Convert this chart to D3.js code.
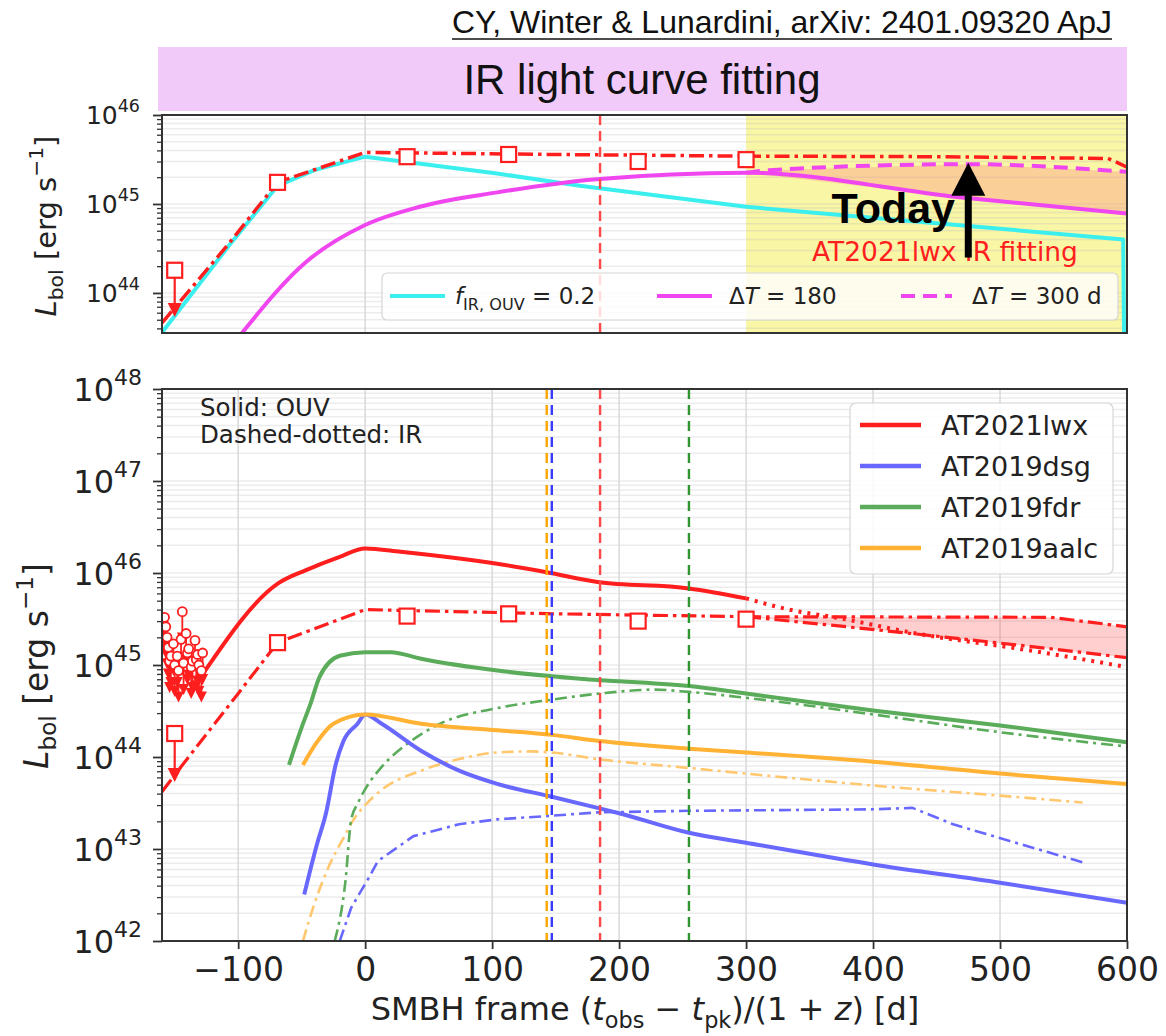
<!DOCTYPE html>
<html>
<head>
<meta charset="utf-8">
<script src="https://cdn.jsdelivr.net/npm/d3@7"></script>
<style>
  body { margin: 0; background: #fff; }
  svg { display: block; }
  text { font-family: "DejaVu Sans", sans-serif; white-space: pre; }
  text.sans { font-family: "Liberation Sans", Arial, sans-serif; }
</style>
</head>
<body>
<svg id="fig" width="1166" height="1036"></svg>
<script>
// ---------------- data (time in days, SMBH frame; luminosity in erg/s) ----------------
const xTicks = [-100, 0, 100, 200, 300, 400, 500, 600];
const topDecades = [44, 45, 46];
const botDecades = [42, 43, 44, 45, 46, 47, 48];

// upper panel: AT2021lwx IR light-curve fit components
const ouvScaledIR = [[-160,3.6e43],[-108,3.3e44],[-69,1.6e45],[-40,2.4e45],[0,3.4e45],[104,2.2e45],[169,1.6e45],[300,9.3e44],[466,5.8e44],[597,4.0e44],[598,1.0e43]];
const dustEcho180 = [[-97,3.55e43],[-47,2.2e44],[0,5.8e44],[43,9.3e44],[104,1.35e45],[182,1.9e45],[300,2.25e45],[466,1.2e45],[600,7.8e44]];
const dustEcho300 = [[300,2.25e45],[318,2.4e45],[475,2.8e45],[600,2.3e45]];
const irFitTotal = [[-160,4.6e43],[-108,3.5e44],[-69,1.75e45],[0,3.8e45],[150,3.6e45],[300,3.45e45],[450,3.4e45],[585,3.25e45],[600,2.6e45]];

// AT2021lwx IR detections and upper limit (shared by both panels)
const irDetections = [[-69,1.75e45],[33,3.4e45],[113,3.6e45],[215,3.0e45],[300,3.15e45]];
const irUpperLimits = [[-150,1.8e44,5.5e43]];

// lower panel: OUV (solid) and IR (dash-dotted) light curves
const lwxOUV = [[-127,8.3e44],[-68,7.8e45],[-47,1.07e46],[-20,1.5e46],[0,1.85e46],[28,1.7e46],[104,1.26e46],[143,1.02e46],[183,8.0e45],[255,6.8e45],[300,5.3e45]];
const lwxOUVext = [[300,5.3e45],[334,4.0e45],[375,3.2e45],[434,2.2e45],[522,1.45e45],[600,9.5e44]];
const lwxIR = [[-160,4.2e43],[-143,8.5e43],[-101,4.7e44],[-69,1.75e45],[0,4.0e45],[150,3.6e45],[300,3.35e45]];
const lwxIR300 = [[300,3.35e45],[540,3.3e45],[600,2.6e45]];
const lwxIR180 = [[300,3.35e45],[404,2.4e45],[522,1.6e45],[600,1.2e45]];
const lwxOUVUpperLimits = [[-159,2.9e45],[-158,3.3e45],[-157,2.6e45],[-156,2.0e45],[-155,1.55e45],[-154,1.1e45],[-153,1.25e45],[-151,1.7e45],[-150,1.0e45],[-148,1.25e45],[-147,8.7e44],[-145,1.9e45],[-144,3.8e45],[-143,1.05e45],[-141,2.2e45],[-140,1.35e45],[-139,1.5e45],[-137,9.5e44],[-136,1.1e45],[-134,1.85e45],[-133,1.15e45],[-132,1.3e45],[-131,1.0e45],[-129,8.7e44],[-128,1.35e45]];

const dsgOUV = [[-48,3.2e42],[-38,1.12e43],[-31,2.4e43],[-23,8.5e43],[-17,1.5e44],[-6,2.3e44],[0,2.9e44],[13,2.3e44],[44,1.17e44],[74,7.1e43],[104,5.1e43],[147,3.7e43],[183,2.8e43],[200,2.45e43],[255,1.5e43],[300,1.17e43],[400,6.8e42],[500,4.3e42],[600,2.6e42]];
const dsgIR = [[-20,1e42],[-11,2.3e42],[3,4.9e42],[10,7.4e42],[38,1.38e43],[74,1.86e43],[104,2.1e43],[147,2.3e43],[183,2.5e43],[255,2.6e43],[400,2.7e43],[431,2.8e43],[463,1.86e43],[507,1.23e43],[566,7.1e42]];
const fdrOUV = [[-60,8.2e43],[-50,2.1e44],[-43,3.8e44],[-36,7.4e44],[-20,1.26e45],[0,1.38e45],[20,1.38e45],[44,1.17e45],[104,8.7e44],[169,7.1e44],[255,5.9e44],[300,4.9e44],[400,3.2e44],[500,2.2e44],[600,1.45e44]];
const fdrIR = [[-24,1e42],[-15.5,4.5e42],[-11,2.1e43],[-6,3.1e43],[1,4.7e43],[13,7.8e43],[35,1.45e44],[59,2.3e44],[104,3.4e44],[147,4.2e44],[185,4.9e44],[228,5.4e44],[255,5.1e44],[300,4.4e44],[400,2.9e44],[500,1.86e44],[600,1.3e44]];
const aalcOUV = [[-49,8.2e43],[-38,1.45e44],[-25,2.3e44],[0,2.9e44],[44,2.3e44],[104,1.95e44],[147,1.74e44],[183,1.5e44],[255,1.23e44],[300,1.12e44],[400,8.9e43],[500,6.6e43],[600,5.1e43]];
const aalcIR = [[-49,1e42],[-41,2.3e42],[-29,6.3e42],[-17,1.32e43],[-9,2.1e43],[1,3.1e43],[13,4.4e43],[44,7.1e43],[74,9.5e43],[104,1.12e44],[130,1.15e44],[147,1.12e44],[183,9.5e43],[255,7.6e43],[300,6.6e43],[400,4.9e43],[500,3.8e43],[565,3.2e43]];

// IR peak epochs (vertical dashed lines)
const peakNames = ["AT2019aalc", "AT2019dsg", "AT2021lwx", "AT2019fdr"];
const peakDays = [143, 147, 185, 255];

// legend of the lower panel
const tdeNames = ["AT2021lwx", "AT2019dsg", "AT2019fdr", "AT2019aalc"];

// "Today" marker in the upper panel
const todayDay = 475;
const todayRange = [2.5e44, 2.9e45];
const forecastStart = 300;

// ---------------- styling ----------------
const C = {
  red: "#ff1e1e", blue: "#6868ff", green: "#5aac5a", orange: "#ffb233",
  orangeIR: "#ffc76e", cyan: "#3cefef", magenta: "#f046f0",
  axis: "#333", vgrid: "#d9d9d9"
};
const tdeColors = { AT2021lwx: C.red, AT2019dsg: C.blue, AT2019fdr: C.green, AT2019aalc: C.orange };
const peakColors = { AT2019aalc: "#ffa500", AT2019dsg: "#3a3aff", AT2021lwx: "#ff4848", AT2019fdr: "#2e962e" };

const svg = d3.select("#fig");
const L = 162, R = 1127;
const topP = { t: 115, b: 333 }, botP = { t: 389, b: 941 };

const x = d3.scaleLinear().domain([-160, 600]).range([L, R]);
const yTop = d3.scaleLog().domain([Math.pow(10, 43.55), 1e46]).range([topP.b, topP.t]);
const yBot = d3.scaleLog().domain([1e42, 1e48]).range([botP.b, botP.t]);

// rich text helper: italic / subscript / superscript runs
function rich(sel, segs, fs) {
  let shift = 0;
  segs.forEach(s => {
    const ts = sel.append("tspan").text(s.t);
    let target = 0, size = fs;
    if (s.k === "sub") { target = 0.24 * fs; size = 0.7 * fs; }
    if (s.k === "sup") { target = -0.45 * fs; size = 0.7 * fs; }
    ts.attr("font-size", size);
    if (s.i) ts.attr("font-style", "italic");
    if (target !== shift) { ts.attr("dy", target - shift); shift = target; }
  });
  return sel;
}

function minorValues(y) {
  const [lo, hi] = y.domain();
  const out = [];
  for (let e = Math.floor(Math.log10(lo)); e <= Math.ceil(Math.log10(hi)); e++) {
    for (let k = 1; k <= 9; k++) {
      const v = k * Math.pow(10, e);
      if (v >= lo * 0.999 && v <= hi * 1.001) out.push(v);
    }
  }
  return out;
}
function decadeValues(y) {
  return (y === yTop ? topDecades : botDecades).map(e => Math.pow(10, e));
}

function panel(y, P, id, opts) {
  const g = svg.append("g");
  svg.append("clipPath").attr("id", id).append("rect")
    .attr("x", L).attr("y", P.t).attr("width", R - L).attr("height", P.b - P.t);
  if (opts.band) {
    g.append("rect").attr("x", x(opts.band[0])).attr("y", P.t)
      .attr("width", x(opts.band[1]) - x(opts.band[0])).attr("height", P.b - P.t)
      .attr("fill", "#f9f6a6");
  }
  // horizontal grid at every log tick
  g.append("g").selectAll("line").data(minorValues(y)).join("line")
    .attr("x1", L).attr("x2", R).attr("y1", d => y(d)).attr("y2", d => y(d))
    .attr("stroke", "#bbb").attr("stroke-opacity", 0.28).attr("stroke-width", 1.5);
  // vertical grid
  g.append("g").selectAll("line").data(opts.vgrid).join("line")
    .attr("x1", d => x(d)).attr("x2", d => x(d)).attr("y1", P.t).attr("y2", P.b)
    .attr("stroke", C.vgrid).attr("stroke-width", 1.5);
  const plot = svg.append("g").attr("clip-path", `url(#${id})`);
  return { g, plot };
}

function axes(y, P, fs, supFs, showX, labelRight) {
  const ax = svg.append("g");
  ax.append("g").attr("transform", `translate(${L},0)`)
    .call(d3.axisLeft(y).tickValues(decadeValues(y)).tickSize(9).tickFormat(() => ""))
    .call(g => g.select(".domain").remove())
    .call(g => g.selectAll("line").attr("stroke", C.axis).attr("stroke-width", 1.8));
  const minors = minorValues(y).filter(v => Math.abs(Math.log10(v) - Math.round(Math.log10(v))) > 1e-6);
  ax.append("g").attr("transform", `translate(${L},0)`)
    .call(d3.axisLeft(y).tickValues(minors).tickSize(5).tickFormat(() => ""))
    .call(g => g.select(".domain").remove())
    .call(g => g.selectAll("line").attr("stroke", C.axis).attr("stroke-width", 1.3));
  // decade labels 10^n
  decadeValues(y).forEach(v => {
    const e = Math.round(Math.log10(v));
    const t = ax.append("text").attr("x", labelRight).attr("y", y(v) + 0.36 * fs)
      .attr("text-anchor", "end").attr("fill", "#222").attr("font-size", fs);
    t.append("tspan").text("10");
    t.append("tspan").attr("font-size", supFs).attr("dy", -0.48 * fs).text(e);
  });
  if (showX) {
    const xAxis = d3.axisBottom(x).tickValues(xTicks).tickSize(8).tickPadding(9)
      .tickFormat(d => d < 0 ? "\u2212" + Math.abs(d) : d);
    ax.append("g").attr("transform", `translate(0,${P.b})`).call(xAxis)
      .call(g => g.select(".domain").remove())
      .call(g => g.selectAll("line").attr("stroke", C.axis).attr("stroke-width", 1.8))
      .call(g => g.selectAll("text").attr("font-size", 33).attr("fill", "#222")
        .style("font-family", "'DejaVu Sans', sans-serif"));
  }
  ax.append("rect").attr("x", L).attr("y", P.t).attr("width", R - L).attr("height", P.b - P.t)
    .attr("fill", "none").attr("stroke", C.axis).attr("stroke-width", 2);
}

function drawLine(plot, y, data, color, width, dash, smooth) {
  const line = d3.line().x(d => x(d[0])).y(d => y(d[1]))
    .curve(smooth ? d3.curveMonotoneX : d3.curveLinear);
  plot.append("path").attr("d", line(data)).attr("fill", "none")
    .attr("stroke", color).attr("stroke-width", width)
    .attr("stroke-dasharray", dash || null).attr("stroke-linejoin", "round");
}
function drawBand(plot, y, upper, lower, fill) {
  const pts = upper.map(d => [x(d[0]), y(d[1])]).concat(lower.slice().reverse().map(d => [x(d[0]), y(d[1])]));
  plot.append("path").attr("d", "M" + pts.map(p => p.join(",")).join("L") + "Z").attr("fill", fill);
}
function drawSquares(g, y, data) {
  const s = 15;
  g.selectAll(null).data(data).join("rect")
    .attr("x", d => x(d[0]) - s / 2).attr("y", d => y(d[1]) - s / 2)
    .attr("width", s).attr("height", s).attr("fill", "#fff")
    .attr("stroke", C.red).attr("stroke-width", 2.2);
}
function drawSquareLimits(g, y, data) {
  data.forEach(d => {
    const cx = x(d[0]), cy = y(d[1]), tip = y(d[2]);
    g.append("line").attr("x1", cx).attr("x2", cx).attr("y1", cy).attr("y2", tip - 6)
      .attr("stroke", C.red).attr("stroke-width", 2.2);
    g.append("path").attr("d", `M${cx - 7},${tip - 13}L${cx + 7},${tip - 13}L${cx},${tip + 1}Z`).attr("fill", C.red);
    g.append("rect").attr("x", cx - 7.5).attr("y", cy - 7.5).attr("width", 15).attr("height", 15)
      .attr("fill", "#fff").attr("stroke", C.red).attr("stroke-width", 2.2);
  });
}
function drawCircleLimits(g, y, data) {
  data.forEach(d => {
    const cx = x(d[0]), cy = y(d[1]), tip = y(d[1] * 0.45);
    g.append("line").attr("x1", cx).attr("x2", cx).attr("y1", cy).attr("y2", tip - 5)
      .attr("stroke", C.red).attr("stroke-width", 1.8);
    g.append("path").attr("d", `M${cx - 5.5},${tip - 11}L${cx + 5.5},${tip - 11}L${cx},${tip}Z`).attr("fill", C.red);
  });
  data.forEach(d => {
    g.append("circle").attr("cx", x(d[0])).attr("cy", y(d[1])).attr("r", 4.5)
      .attr("fill", "#fff").attr("stroke", C.red).attr("stroke-width", 1.8);
  });
}

const DASHDOT = "15,5,3.5,5";
const DASHDOT_THIN = "12,5,3,5";

// ---------------- header ----------------
svg.append("text").attr("class", "sans").attr("x", 1112).attr("y", 33).attr("text-anchor", "end")
  .attr("font-size", 31.5).attr("fill", "#111")
  .attr("textLength", 660).attr("lengthAdjust", "spacingAndGlyphs")
  .text("CY, Winter & Lunardini, arXiv: 2401.09320 ApJ");
svg.append("line").attr("x1", 452).attr("x2", 1112).attr("y1", 39).attr("y2", 39)
  .attr("stroke", "#111").attr("stroke-width", 1.6);
svg.append("rect").attr("x", 158).attr("y", 47).attr("width", 969).attr("height", 64).attr("fill", "#f2cafa");
svg.append("text").attr("class", "sans").attr("x", 642).attr("y", 94).attr("text-anchor", "middle")
  .attr("font-size", 42).attr("fill", "#111")
  .text("IR light curve fitting");

// ---------------- upper panel ----------------
{
  const { plot } = panel(yTop, topP, "clipTop", { band: [forecastStart, 600], vgrid: [0] });
  drawBand(plot, yTop, dustEcho300, dustEcho180.filter(d => d[0] >= forecastStart), "rgba(255,110,120,0.28)");
  drawLine(plot, yTop, ouvScaledIR, C.cyan, 4);
  drawLine(plot, yTop, dustEcho180, C.magenta, 4, null, true);
  drawLine(plot, yTop, dustEcho300, C.magenta, 4, "14,8", true);
  plot.append("line").attr("x1", x(peakDays[2])).attr("x2", x(peakDays[2])).attr("y1", topP.t).attr("y2", topP.b)
    .attr("stroke", peakColors.AT2021lwx).attr("stroke-width", 2.4).attr("stroke-dasharray", "10,6");
  drawLine(plot, yTop, irFitTotal, C.red, 3.5, DASHDOT);
  drawSquares(plot, yTop, irDetections);
  drawSquareLimits(plot, yTop, irUpperLimits);

  // legend
  const lg = svg.append("g");
  lg.append("rect").attr("x", 382).attr("y", 273).attr("width", 736).attr("height", 47).attr("rx", 5)
    .attr("fill", "rgba(255,255,255,0.8)").attr("stroke", "#d6d6d6").attr("stroke-width", 1.2);
  const ly = 296;
  lg.append("line").attr("x1", 390).attr("x2", 445).attr("y1", ly).attr("y2", ly).attr("stroke", C.cyan).attr("stroke-width", 4);
  rich(lg.append("text").attr("x", 455).attr("y", ly + 8).attr("fill", "#222"),
    [{ t: "f", i: 1 }, { t: "IR, OUV", k: "sub" }, { t: " = 0.2" }], 23);
  lg.append("line").attr("x1", 657).attr("x2", 712).attr("y1", ly).attr("y2", ly).attr("stroke", C.magenta).attr("stroke-width", 4);
  rich(lg.append("text").attr("x", 729).attr("y", ly + 8).attr("fill", "#222"),
    [{ t: "Δ" }, { t: "T", i: 1 }, { t: " = 180" }], 23);
  lg.append("line").attr("x1", 901).attr("x2", 952).attr("y1", ly).attr("y2", ly).attr("stroke", C.magenta)
    .attr("stroke-width", 4).attr("stroke-dasharray", "14,8");
  rich(lg.append("text").attr("x", 972).attr("y", ly + 8).attr("fill", "#222"),
    [{ t: "Δ" }, { t: "T", i: 1 }, { t: " = 300 d" }], 23);

  // "Today" annotation
  const ax = x(todayDay), yTip = yTop(todayRange[1]), yTail = yTop(todayRange[0]);
  svg.append("text").attr("x", 812).attr("y", 261).attr("fill", C.red).attr("font-size", 26.5)
    .text("AT2021lwx IR fitting");
  svg.append("text").attr("class", "sans").attr("x", 955).attr("y", 223).attr("text-anchor", "end")
    .attr("font-weight", "bold").attr("font-size", 43).attr("fill", "#000").text("Today");
  svg.append("rect").attr("x", ax - 3.5).attr("y", yTip + 30).attr("width", 7).attr("height", yTail - yTip - 30).attr("fill", "#000");
  svg.append("path").attr("d", `M${ax},${yTip}L${ax + 17},${yTip + 33}L${ax - 17},${yTip + 33}Z`).attr("fill", "#000");

  axes(yTop, topP, 25, 17.5, false, 140);
  rich(svg.append("text").attr("transform", "translate(56,226) rotate(-90)").attr("text-anchor", "middle").attr("fill", "#222"),
    [{ t: "L", i: 1 }, { t: "bol", k: "sub" }, { t: " [erg s" }, { t: "\u22121", k: "sup" }, { t: "]" }], 29);
}

// ---------------- lower panel ----------------
{
  const { plot } = panel(yBot, botP, "clipBot", { vgrid: [-100, 0, 100, 200, 300, 400, 500] });
  drawBand(plot, yBot, lwxIR300, lwxIR180, "rgba(255,60,60,0.25)");

  drawLine(plot, yBot, dsgIR, C.blue, 2.6, DASHDOT_THIN);
  drawLine(plot, yBot, aalcIR, C.orangeIR, 2.6, DASHDOT_THIN, true);
  drawLine(plot, yBot, fdrIR, C.green, 2.6, DASHDOT_THIN, true);
  drawLine(plot, yBot, dsgOUV, C.blue, 4, null, true);
  drawLine(plot, yBot, aalcOUV, C.orange, 4, null, true);
  drawLine(plot, yBot, fdrOUV, C.green, 4, null, true);

  drawLine(plot, yBot, lwxOUV, C.red, 4, null, true);
  drawLine(plot, yBot, lwxOUVext, C.red, 4, "3,6", true);
  drawLine(plot, yBot, lwxIR, C.red, 3.2, DASHDOT);
  drawLine(plot, yBot, lwxIR300, C.red, 3.2, DASHDOT);
  drawLine(plot, yBot, lwxIR180, C.red, 3.2, DASHDOT, true);

  peakDays.forEach((d, i) => {
    plot.append("line").attr("x1", x(d)).attr("x2", x(d)).attr("y1", botP.t).attr("y2", botP.b)
      .attr("stroke", peakColors[peakNames[i]]).attr("stroke-width", 2.4).attr("stroke-dasharray", "10,6");
  });

  drawCircleLimits(plot, yBot, lwxOUVUpperLimits);
  drawSquares(plot, yBot, irDetections);
  drawSquareLimits(plot, yBot, irUpperLimits);

  // annotation
  const note = svg.append("g").attr("font-size", 24.5).attr("fill", "#222");
  note.append("text").attr("x", 200).attr("y", 416).text("Solid: OUV");
  note.append("text").attr("x", 200).attr("y", 443).text("Dashed-dotted: IR");

  // legend
  const lg = svg.append("g");
  lg.append("rect").attr("x", 850).attr("y", 403).attr("width", 263).attr("height", 171).attr("rx", 6)
    .attr("fill", "rgba(255,255,255,0.85)").attr("stroke", "#d6d6d6").attr("stroke-width", 1.2);
  tdeNames.forEach((n, i) => {
    const yy = 425 + i * 41;
    lg.append("line").attr("x1", 860).attr("x2", 921).attr("y1", yy).attr("y2", yy)
      .attr("stroke", tdeColors[n]).attr("stroke-width", 4.5);
    lg.append("text").attr("x", 941).attr("y", yy + 10).attr("font-size", 27).attr("fill", "#222").text(n);
  });

  axes(yBot, botP, 32, 22, true, 142);
  rich(svg.append("text").attr("transform", "translate(48,666) rotate(-90)").attr("text-anchor", "middle").attr("fill", "#222"),
    [{ t: "L", i: 1 }, { t: "bol", k: "sub" }, { t: " [erg s" }, { t: "\u22121", k: "sup" }, { t: "]" }], 33);
  rich(svg.append("text").attr("x", 645).attr("y", 1020).attr("text-anchor", "middle").attr("fill", "#222"),
    [{ t: "SMBH frame (" }, { t: "t", i: 1 }, { t: "obs", k: "sub" }, { t: " \u2212 " }, { t: "t", i: 1 }, { t: "pk", k: "sub" },
     { t: ")/(1 + " }, { t: "z", i: 1 }, { t: ") [d]" }], 32);
}
</script>
</body>
</html>
